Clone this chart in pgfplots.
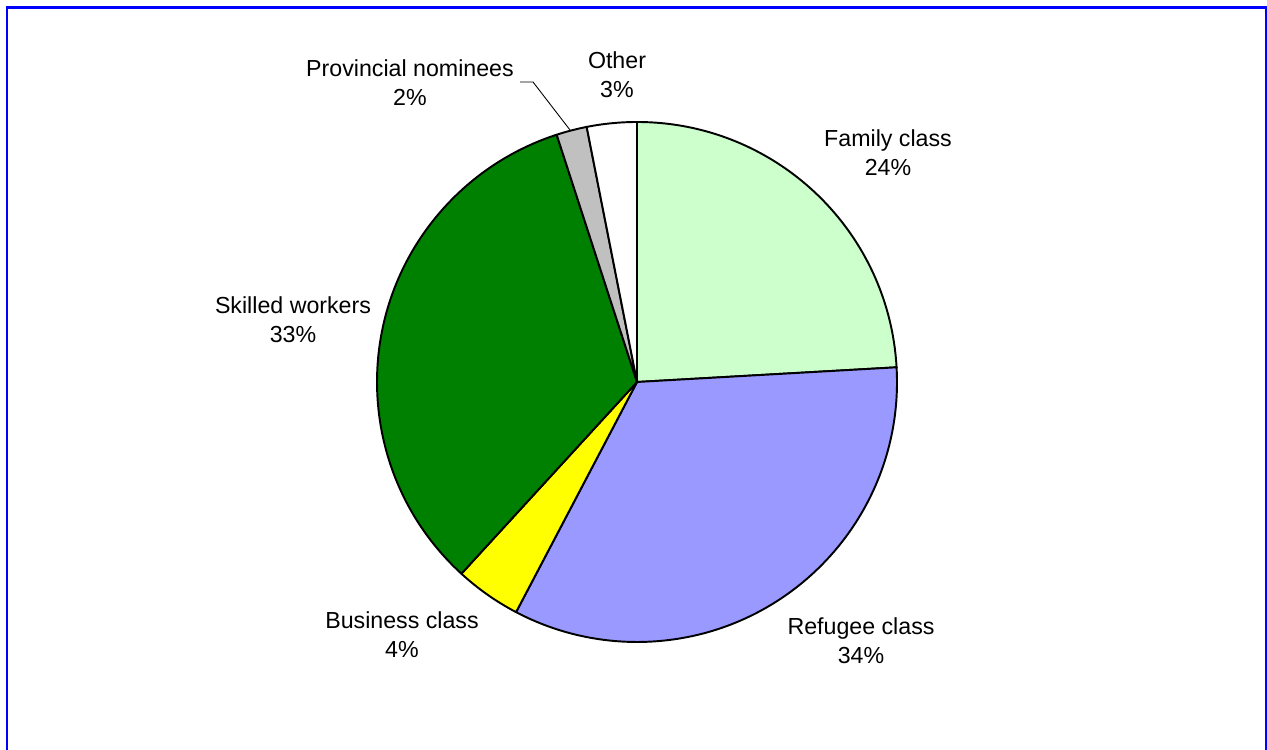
\documentclass[border=0pt]{standalone}
\usepackage{pgfplots}
\pgfplotsset{compat=1.18}
\usepackage{pgfplotstable}
\usepackage{fontspec}
\setmainfont{Liberation Sans}

\definecolor{famcol}{RGB}{204,255,204}
\definecolor{refcol}{RGB}{153,153,255}
\definecolor{buscol}{RGB}{255,255,0}
\definecolor{skicol}{RGB}{0,128,0}
\definecolor{procol}{RGB}{192,192,192}
\definecolor{othcol}{RGB}{255,255,255}
\definecolor{framecol}{RGB}{0,0,255}

% share of each category, clockwise from the top
\pgfplotstableread{
value colour
24.1 famcol
33.6 refcol
4.1  buscol
33.2 skicol
1.9  procol
3.1  othcol
}\piedata

\begin{document}
\begin{tikzpicture}
\begin{axis}[
    scale only axis,
    width=25.34cm, height=15cm,
    xmin=0, xmax=1267, ymin=0, ymax=750,
    hide axis,
]
\path (axis cs:0,0) rectangle (axis cs:1267,750);
% blue frame
\draw[framecol, line width=1.7pt] (axis cs:7,-20) -- (axis cs:7,742) -- (axis cs:1266,742) -- (axis cs:1266,-20);

\pgfplotstablegetrowsof{\piedata}
\pgfmathtruncatemacro\N{\pgfplotsretval-1}
\def\cum{0}
\pgfplotsforeachungrouped \i in {0,...,\N}{
  \pgfplotstablegetelem{\i}{value}\of\piedata \let\v\pgfplotsretval
  \pgfplotstablegetelem{\i}{colour}\of\piedata \let\c\pgfplotsretval
  \pgfmathsetmacro\a{90-3.6*\cum}
  \pgfmathsetmacro\b{90-3.6*(\cum+\v)}
  \pgfmathsetmacro\px{637+260*cos(\a)}
  \pgfmathsetmacro\py{368+260*sin(\a)}
  \edef\temp{\noexpand\filldraw[fill=\c, draw=black, line width=1.1pt, line join=round]
    (axis cs:637,368) -- (axis cs:\px,\py) arc[start angle=\a, end angle=\b, radius=5.2cm] -- cycle;}
  \temp
  \pgfmathsetmacro\cum{\cum+\v}
}

% leader line for provincial nominees
\draw[black, line width=0.5pt] (axis cs:520,668) -- (axis cs:533,668) -- (axis cs:570,620);

\tikzset{lbl/.style={align=center, font=\fontsize{13.2}{16.5}\selectfont, inner sep=0pt}}
\node[lbl] at (axis cs:888,597.5) {Family class\\24\%};
\node[lbl] at (axis cs:861,109.5) {Refugee class\\34\%};
\node[lbl] at (axis cs:402,115.5) {Business class\\4\%};
\node[lbl] at (axis cs:293,430.5) {Skilled workers\\33\%};
\node[lbl] at (axis cs:410,667.5) {Provincial nominees\\2\%};
\node[lbl] at (axis cs:617,675.5) {Other\\3\%};
\end{axis}
\end{tikzpicture}
\end{document}
